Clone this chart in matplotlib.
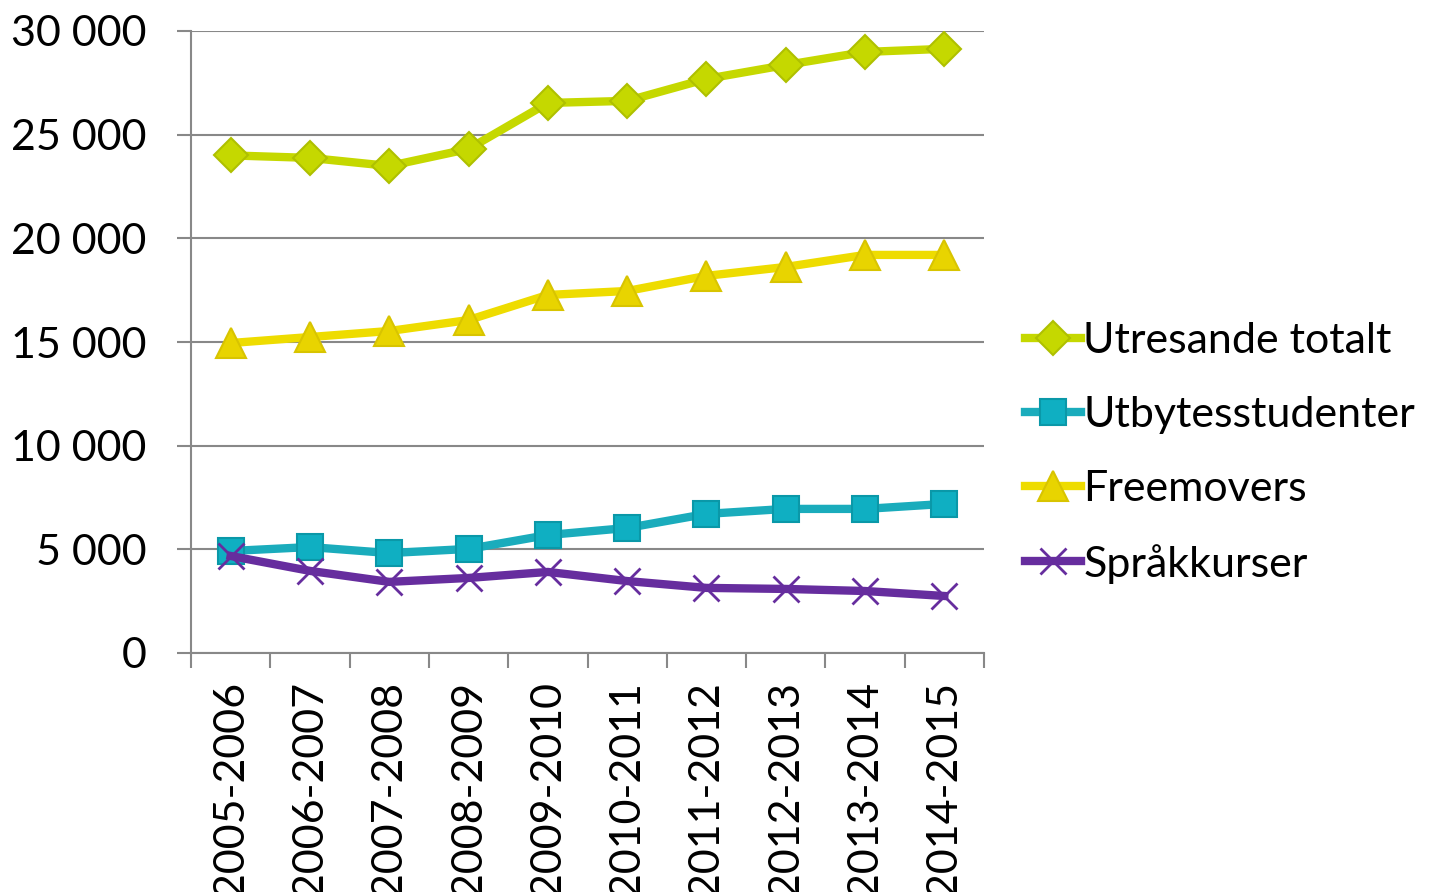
import matplotlib
matplotlib.use("Agg")
import matplotlib.pyplot as plt
from matplotlib.ticker import FuncFormatter

plt.rcParams['font.family'] = ['Lato', 'DejaVu Sans']

years = ['2005-2006', '2006-2007', '2007-2008', '2008-2009', '2009-2010',
         '2010-2011', '2011-2012', '2012-2013', '2013-2014', '2014-2015']

utresande = [24000, 23880, 23490, 24310, 26530, 26630, 27690, 28360, 28990, 29140]
utbytes = [4920, 5110, 4820, 5020, 5690, 6030, 6710, 6950, 6950, 7190]
freemovers = [14950, 15240, 15530, 16060, 17270, 17460, 18190, 18620, 19200, 19200]
sprak = [4680, 3960, 3430, 3620, 3910, 3470, 3140, 3090, 2990, 2750]

grey = '#888888'
fs = 31

fig = plt.figure(figsize=(14.3, 8.92), dpi=100)
ax = fig.add_axes([191/1430, 1 - 653/892, 793/1430, 622/892])

x = list(range(len(years)))
ax.plot(x, utresande, color='#C5D800', lw=6, marker='D', ms=17,
        mfc='#C5D800', mec='#AFC000', mew=1.5, label='Utresande totalt', zorder=3)
ax.plot(x, utbytes, color='#1AACBC', lw=6, marker='s', ms=19,
        mfc='#0FAFC2', mec='#0A98A8', mew=1.5, label='Utbytesstudenter', zorder=3)
ax.plot(x, freemovers, color='#EEDC00', lw=6, marker='^', ms=21,
        mfc='#E8D400', mec='#D8C400', mew=1.5, label='Freemovers', zorder=3)
ax.plot(x, sprak, color='#662D9E', lw=6, marker='x', ms=19,
        mec='#662D9E', mew=2, label='Språkkurser', zorder=4)

ax.set_xlim(-0.5, len(years) - 0.5)
ax.set_ylim(0, 30000)
ax.set_yticks(range(0, 30001, 5000))
ax.yaxis.set_major_formatter(FuncFormatter(lambda v, p: f'{int(v):,}'.replace(',', ' ')))
ax.grid(axis='y', color=grey, lw=1.5)
ax.set_axisbelow(True)

ax.set_xticks(x)
ax.set_xticklabels(years, rotation=90, fontsize=fs)
ax.set_xticks([i - 0.5 for i in range(len(years) + 1)], minor=True)
ax.tick_params(axis='x', which='major', length=0, pad=20)
ax.tick_params(axis='x', which='minor', length=11, width=1.5, color=grey)
ax.tick_params(axis='y', length=10, width=1.5, color=grey, labelsize=fs, pad=22)

for s in ['top', 'right']:
    ax.spines[s].set_visible(False)
for s in ['left', 'bottom']:
    ax.spines[s].set_color(grey)
    ax.spines[s].set_linewidth(1.5)

ax.legend(loc='center left', bbox_to_anchor=(1.052, 0.322), frameon=False,
          fontsize=fs, handlelength=1.3, handletextpad=0.05, labelspacing=0.835,
          numpoints=1, borderaxespad=0, borderpad=0)

fig.savefig('out.png', dpi=100)
